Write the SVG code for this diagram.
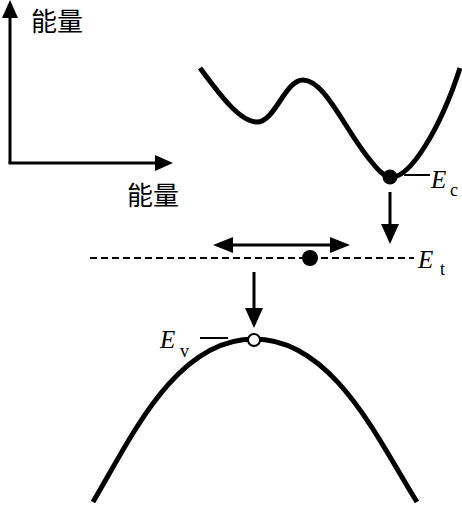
<svg xmlns="http://www.w3.org/2000/svg" width="462" height="505" viewBox="0 0 462 505">
<style>
.cn{font-family:"Noto Sans CJK SC","Noto Sans CJK JP",sans-serif;font-size:26px;fill:#000}
.e{font-family:"Liberation Serif",serif;font-style:italic;font-size:25px;fill:#000}
.sub{font-family:"Liberation Serif",serif;font-size:18px;fill:#000}
.band{fill:none;stroke:#000;stroke-width:5;stroke-linecap:butt;stroke-linejoin:round}
.ln{stroke:#000;stroke-width:3;fill:none}
.tick{stroke:#000;stroke-width:2;fill:none}
</style>
<rect width="462" height="505" fill="#fff"/>
<g id="axes">
<line class="ln" x1="10" y1="163" x2="10" y2="16"/>
<polygon points="10,0 2,18 18,18"/>
<line class="ln" x1="8.5" y1="163" x2="156" y2="163"/>
<polygon points="173,163 155,155 155,171"/>
<text class="cn" x="31" y="31">能量</text>
<text class="cn" x="127" y="205">能量</text>
</g>
<g id="conduction-band">
<path class="band" d="M200,68 C220,95 240,122 257,122 C275,122 285,80 303,80 C325,80 345,130 370,160 C378,170 384,177 392,177 C410,177 440,130 460,68"/>
<circle cx="390" cy="177" r="7.5"/>
<line class="tick" x1="404" y1="175" x2="430" y2="175"/>
<text class="e" x="431" y="188">E</text>
<text class="sub" x="450" y="196">c</text>
</g>
<g id="trap-level">
<line x1="90" y1="258" x2="414" y2="258" stroke="#000" stroke-width="2" stroke-dasharray="7,4"/>
<circle cx="310" cy="258" r="8"/>
<text class="e" x="418" y="268">E</text>
<text class="sub" x="440" y="275">t</text>
</g>
<g id="valence-band">
<path class="band" d="M93,502 C130,440 175,339 254,339 C333,339 378,440 417,502"/>
<circle cx="254" cy="340" r="6" fill="#fff" stroke="#000" stroke-width="2"/>
<line class="tick" x1="200" y1="338" x2="228" y2="338"/>
<text class="e" x="160" y="348">E</text>
<text class="sub" x="180" y="357">v</text>
</g>
<g id="connectors">
<line class="ln" x1="390" y1="192" x2="390" y2="226"/>
<polygon points="390,244 381,224 399,224"/>
<line class="ln" x1="230" y1="245" x2="333" y2="245"/>
<polygon points="213,245 233,237 233,253"/>
<polygon points="350,245 330,237 330,253"/>
<line class="ln" x1="254" y1="272" x2="254" y2="310"/>
<polygon points="254,328 245,308 263,308"/>
</g>
</svg>
